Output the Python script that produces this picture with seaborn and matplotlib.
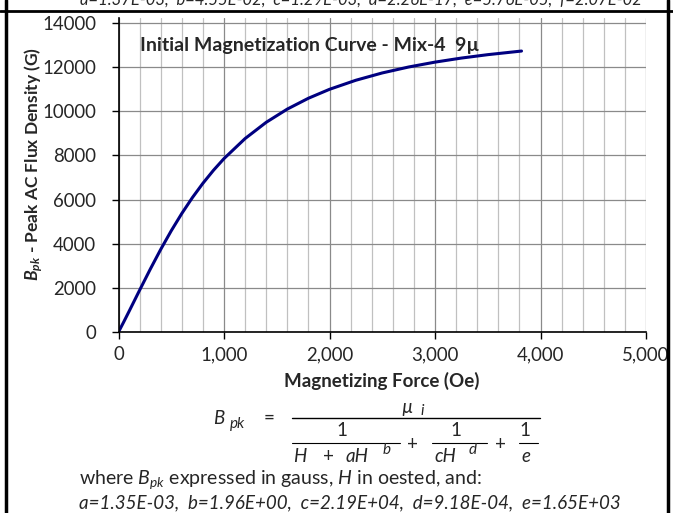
import numpy as np
import pandas as pd
import matplotlib
matplotlib.use('Agg')
import matplotlib.pyplot as plt
from matplotlib.lines import Line2D
import seaborn as sns

##################################################################
# values
H_oe = [0, 50, 100, 200, 300, 400, 500, 600, 700, 800, 900, 1000, 1200, 1400,
        1600, 1800, 2000, 2250, 2500, 2750, 3000, 3250, 3500, 3820]
B_gauss = [0, 460, 934, 1893, 2837, 3741, 4587, 5370, 6087, 6738, 7326, 7857,
           8765, 9501, 10100, 10591, 10996, 11407, 11738, 12007, 12228, 12412,
           12566, 12730]

x_ticks = [0, 1000, 2000, 3000, 4000, 5000]
x_tick_labels = ['0', '1,000', '2,000', '3,000', '4,000', '5,000']
y_ticks = [0, 2000, 4000, 6000, 8000, 10000, 12000, 14000]
y_tick_labels = ['0', '2000', '4000', '6000', '8000', '10000', '12000', '14000']

title = 'Initial Magnetization Curve - Mix-4  9\u00b5'
coef_line = 'a=1.35E-03,  b=1.96E+00,  c=2.19E+04,  d=9.18E-04,  e=1.65E+03'
top_line = 'a=1.37E-03,  b=4.55E-02,  c=1.29E-03,  d=2.26E-17,  e=5.76E-05,  f=2.07E-02'
##################################################################

sns.set_style('ticks')
plt.rcParams['font.family'] = ['Lato', 'DejaVu Sans']
plt.rcParams['mathtext.fontset'] = 'custom'
plt.rcParams['mathtext.it'] = 'Lato:italic'
plt.rcParams['mathtext.rm'] = 'Lato'
plt.rcParams['mathtext.bfit'] = 'Lato:italic:bold'

W, HP = 673, 513
fig = plt.figure(figsize=(W / 100, HP / 100), dpi=100)


def px(x, y):
    return x / W, 1 - y / HP


def hline(x0, x1, y, lw=1.0):
    fig.add_artist(Line2D([x0 / W, x1 / W], [1 - y / HP, 1 - y / HP],
                          transform=fig.transFigure, color='k', lw=lw))


ax = fig.add_axes([118.5 / W, 1 - 332 / HP, (646 - 118.5) / W, (332 - 17.5) / HP])

df = pd.DataFrame({'H': H_oe, 'B': B_gauss})
sns.lineplot(data=df, x='H', y='B', ax=ax, color='#000080', lw=2.2, sort=False)

ax.set_xlim(0, 5000)
ax.set_ylim(0, 14250)
ax.set_xticks(x_ticks, x_tick_labels)
ax.set_xticks(np.arange(0, 5001, 200), minor=True)
ax.set_yticks(y_ticks, y_tick_labels)
ax.grid(which='minor', axis='x', color='#c0c0c0', lw=0.9)
ax.grid(which='major', axis='x', color='#8a8a8a', lw=0.9)
ax.grid(which='major', axis='y', color='#8a8a8a', lw=0.9)
ax.set_axisbelow(True)
ax.tick_params(axis='both', which='major', labelsize=13.4, length=5, width=1, color='k')
ax.tick_params(axis='x', which='minor', length=0)
ax.tick_params(axis='x', pad=5)
ax.tick_params(axis='y', pad=11)
for s in ['top', 'right']:
    ax.spines[s].set_visible(False)
for s in ['left', 'bottom']:
    ax.spines[s].set_color('k')
    ax.spines[s].set_linewidth(1.2)
ax.set_xlabel('')
ax.set_ylabel('')

# title inside plot area
fig.text(*px(140, 45), title, fontsize=14, fontweight='bold', ha='left', va='center')

# axis labels
fig.text(*px(382, 381), 'Magnetizing Force (Oe)', fontsize=13.5, fontweight='bold',
         ha='center', va='center')
fig.text(*px(34, 164), r'$\mathbfit{B}_{\mathbfit{pk}}$ - Peak AC Flux Density (G)',
         fontsize=12.5, fontweight='bold', rotation=90, ha='center', va='center')

# formula
fs = 13.5
fig.text(*px(219, 418), 'B', style='italic', fontsize=fs, ha='center', va='center')
fig.text(*px(238, 424), 'pk', style='italic', fontsize=fs - 2.5, ha='center', va='center')
fig.text(*px(269, 418), '=', fontsize=fs, ha='center', va='center')
hline(292, 540, 418)
fig.text(*px(407, 407), '\u00b5', style='italic', fontsize=fs, ha='center', va='center')
fig.text(*px(422, 411), 'i', style='italic', fontsize=fs - 2.5, ha='center', va='center')
for xc in [342, 456, 525]:
    fig.text(*px(xc, 431), '1', fontsize=fs, ha='center', va='center')
hline(292, 400, 443, lw=0.8)
hline(432, 487, 443, lw=0.8)
hline(519, 538, 443, lw=0.8)
fig.text(*px(413, 444), '+', fontsize=fs, ha='center', va='center')
fig.text(*px(500, 444), '+', fontsize=fs, ha='center', va='center')
fig.text(*px(300, 457), 'H', style='italic', fontsize=fs, ha='center', va='center')
fig.text(*px(328, 457), '+', fontsize=fs, ha='center', va='center')
fig.text(*px(357, 457), 'aH', style='italic', fontsize=fs, ha='center', va='center')
fig.text(*px(387, 450), 'b', style='italic', fontsize=fs - 2.5, ha='center', va='center')
fig.text(*px(445, 457), 'cH', style='italic', fontsize=fs, ha='center', va='center')
fig.text(*px(473, 450), 'd', style='italic', fontsize=fs - 2.5, ha='center', va='center')
fig.text(*px(526, 457), 'e', style='italic', fontsize=fs, ha='center', va='center')

fig.text(*px(79, 480), r'where $B_{pk}$ expressed in gauss, $H$ in oested, and:',
         fontsize=14, ha='left', va='center')
fig.text(*px(79, 503), coef_line, style='italic', fontsize=fs, ha='left', va='center')

# clipped line of the previous panel and frame
fig.text(*px(80, 0), top_line, style='italic', fontsize=12, ha='left', va='center')
hline(0, W, 10.5, lw=2)
fig.add_artist(Line2D([6 / W, 6 / W], [0, 1], transform=fig.transFigure, color='k', lw=2.5))
fig.add_artist(Line2D([668 / W, 668 / W], [0, 1], transform=fig.transFigure, color='k', lw=2.5))

fig.savefig('out.png', dpi=100)
